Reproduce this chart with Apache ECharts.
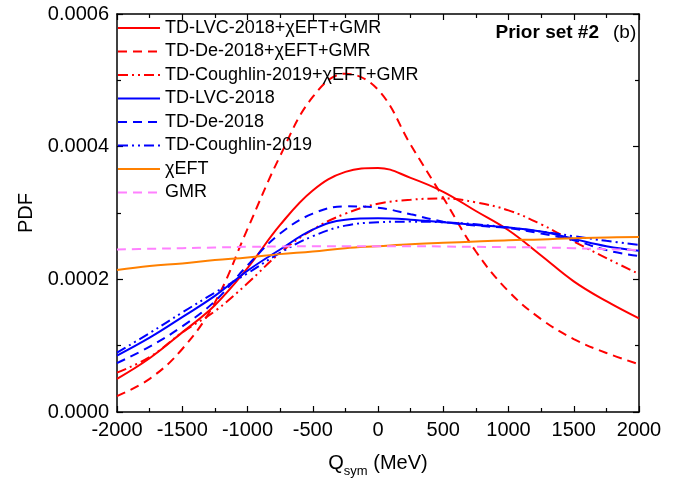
<!DOCTYPE html>
<html><head><meta charset="utf-8">
<script src="https://cdn.jsdelivr.net/npm/echarts@6/dist/echarts.min.js"></script>
<style>html,body{margin:0;padding:0;background:#fff}#c{width:694px;height:483px}</style>
</head><body><div id="c"></div>
<script>
// Q_sym grid (MeV)
const qsym = [-2000,-1750,-1500,-1250,-1000,-750,-500,-250,0,250,500,750,1000,1250,1500,1750,2000];
const xTicks = [-2000,-1500,-1000,-500,0,500,1000,1500,2000];
const yTicks = [0.0000,0.0002,0.0004,0.0006];

const lvcComb  = [0.000050,0.000081,0.000120,0.000161,0.000217,0.000282,0.000334,0.000362,0.000368,0.000353,0.000332,0.000303,0.000274,0.000236,0.000197,0.000167,0.000141];
const deComb   = [0.000024,0.000050,0.000095,0.000165,0.000276,0.000386,0.000475,0.000510,0.000486,0.000403,0.000323,0.000242,0.000182,0.000140,0.000110,0.000089,0.000072];
const cougComb = [0.0000594,0.0000827,0.000120,0.000152,0.000194,0.000240,0.000275,0.000299,0.000314,0.000320,0.000322,0.000316,0.000304,0.000283,0.000257,0.000232,0.000208];
const lvc      = [0.000085,0.000112,0.000143,0.000175,0.000213,0.000245,0.000275,0.000290,0.000292,0.000290,0.000286,0.000282,0.000278,0.000272,0.000261,0.000250,0.000243];
const de       = [0.0000737,0.0000985,0.000129,0.000167,0.000221,0.000269,0.000299,0.000310,0.000308,0.000298,0.000287,0.000281,0.000277,0.000269,0.000259,0.000244,0.000235];
const coug     = [0.0000895,0.000119,0.000150,0.000180,0.000209,0.000240,0.000265,0.000281,0.000286,0.000287,0.000286,0.000283,0.000278,0.000272,0.000265,0.000258,0.000252];
const chiEFT   = [0.000214,0.000220,0.000224,0.000229,0.000233,0.000238,0.000242,0.000247,0.000250,0.000253,0.000255,0.000257,0.000259,0.000260,0.000262,0.000263,0.000264];
const gmr      = [0.000245,0.000246,0.000247,0.000248,0.000249,0.0002495,0.000250,0.000250,0.000250,0.000250,0.0002495,0.000249,0.0002485,0.000248,0.000247,0.0002455,0.000244];

const names = ['TD-LVC-2018+\u03c7EFT+GMR','TD-De-2018+\u03c7EFT+GMR','TD-Coughlin-2019+\u03c7EFT+GMR','TD-LVC-2018','TD-De-2018','TD-Coughlin-2019','\u03c7EFT','GMR'];

const F = '"Liberation Sans", Arial, sans-serif';
const DASH = [9,6];
const DDOT = [10,4,2,4,2,4];

function mk(name, vals, color, type) {
  return {
    name: name, type: 'line', xAxisIndex: 0, yAxisIndex: 0,
    data: qsym.map((x, i) => [x, vals[i]]),
    smooth: 0.4, symbol: 'none', showSymbol: false,
    lineStyle: { color: color, width: 2, type: type },
    itemStyle: { color: color },
    emphasis: { disabled: true }
  };
}

const axisLine = { onZero: false, lineStyle: { color: '#000', width: 1.5 } };
const tick = { inside: true, length: 6, lineStyle: { color: '#000', width: 1.2 } };
const minor = { show: true, splitNumber: 2, length: 4, lineStyle: { color: '#000', width: 1.2 } };

const chart = echarts.init(document.getElementById('c'), null, { renderer: 'canvas' });
chart.setOption({
  animation: false,
  backgroundColor: '#fff',
  textStyle: { fontFamily: F },
  grid: { left: 117, right: 55, top: 14, bottom: 70, containLabel: false },
  xAxis: [
    { type: 'value', min: xTicks[0], max: xTicks[xTicks.length-1], interval: 500, position: 'bottom',
      axisLine: axisLine, axisTick: tick, minorTick: minor, splitLine: { show: false },
      axisLabel: { fontSize: 20, color: '#000', fontFamily: F, margin: 8, formatter: v => String(v) },
      name: '{q|Q}{s|sym}{q| (MeV)}', nameLocation: 'middle', nameGap: 41,
      nameTextStyle: { rich: {
        q: { fontSize: 20, fontFamily: F, color: '#000', lineHeight: 20, verticalAlign: 'top' },
        s: { fontSize: 13, fontFamily: F, color: '#000', lineHeight: 13, verticalAlign: 'top', padding: [12,0,0,0] }
      } } },
    { type: 'value', min: xTicks[0], max: xTicks[xTicks.length-1], interval: 500, position: 'top',
      axisLine: axisLine, axisTick: tick, minorTick: minor, splitLine: { show: false },
      axisLabel: { show: false } }
  ],
  yAxis: [
    { type: 'value', min: yTicks[0], max: yTicks[yTicks.length-1], interval: 0.0002, position: 'left',
      axisLine: axisLine, axisTick: tick, minorTick: minor, splitLine: { show: false },
      axisLabel: { fontSize: 20, color: '#000', fontFamily: F, margin: 8, formatter: v => v.toFixed(4) },
      name: 'PDF', nameLocation: 'middle', nameGap: 80, nameRotate: 90,
      nameTextStyle: { fontSize: 20, color: '#000', fontFamily: F } },
    { type: 'value', min: yTicks[0], max: yTicks[yTicks.length-1], interval: 0.0002, position: 'right',
      axisLine: axisLine, axisTick: tick, minorTick: minor, splitLine: { show: false },
      axisLabel: { show: false } }
  ],
  legend: {
    orient: 'vertical', left: 117, top: 18, itemWidth: 42, itemHeight: 14, itemGap: 3.5,
    padding: 0, data: names, selectedMode: false,
    itemStyle: { color: 'transparent', borderColor: 'transparent', borderWidth: 0, opacity: 0 },
    textStyle: { fontSize: 18, fontFamily: F, color: '#000', lineHeight: 20 }
  },
  graphic: [
    { type: 'text', x: 599, y: 33, style: { text: 'Prior set #2', fontSize: 19, fontWeight: 'bold', fontFamily: F, fill: '#000', textAlign: 'right', textVerticalAlign: 'middle' } },
    { type: 'text', x: 613, y: 33, style: { text: '(b)', fontSize: 19, fontFamily: F, fill: '#000', textAlign: 'left', textVerticalAlign: 'middle' } }
  ],
  series: [
    mk(names[0], lvcComb, '#ff0000', 'solid'),
    mk(names[1], deComb, '#ff0000', DASH),
    mk(names[2], cougComb, '#ff0000', DDOT),
    mk(names[3], lvc, '#0000ff', 'solid'),
    mk(names[4], de, '#0000ff', DASH),
    mk(names[5], coug, '#0000ff', DDOT),
    mk(names[6], chiEFT, '#ff8000', 'solid'),
    mk(names[7], gmr, '#ff80ff', DASH)
  ]
});
</script>
</body></html>
